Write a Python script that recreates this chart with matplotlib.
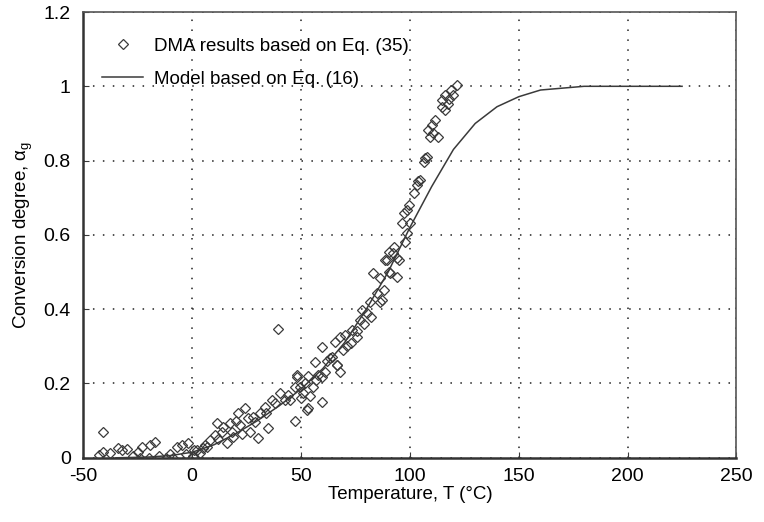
import matplotlib
matplotlib.use("Agg")
import matplotlib.pyplot as plt
from matplotlib.lines import Line2D

plt.rc('font', family=['Liberation Sans', 'DejaVu Sans'], size=12)
plt.rc('mathtext', default='regular')
plt.rc('axes', unicode_minus=False)

EDGE = '#3a3a3a'

# DMA results based on Eq. (35)
dma_T = [-41, -41, -43, -37.7, -34, -30, -25, -23, -19.3, -17, -24, -20, -12, -9, -7, -4.6, -2, 0.5, 3.7, 7,
         -27, -32, -15, -10, -3, 1,
         0.6, 2.1, 5, 8.3, 10.6, 11.3, 13.6, 14.3, 16, 17.5, 18.2, 18.8, 21, 22, 24.3, 25.8, 26.6, 29, 30.3,
         31.2, 33.5, 35, 36.7, 38, 40.4, 42.7, 45, 47.3, 48, 49.6, 51, 52.8, 39.5, 12, 20, 28, 34, 44, 6, 23,
         53, 56.5, 59.7, 59.7, 58, 61, 64.3, 66.6, 69.4, 68, 73.5, 75.8, 77.2, 80.4, 83.1, 87.3, 86.4, 91,
         89.6, 92.3, 48, 47.3, 55.7, 54.2, 65.7, 75.6, 78, 81.8, 86.4, 84.8, 87.9, 90.2, 94, 94, 66.5, 68,
         63.4, 59.6, 52, 57, 71, 79, 82, 70, 62, 73, 50, 53,
         121.6, 120, 116.2, 114.7, 117.7, 114.7, 116.2, 111.6, 110.1, 108.5, 113.1, 109.3, 107.8, 106.3,
         104.7, 103.2, 101.7, 99.4, 98.6, 97.1, 96.3, 100.1, 98.6, 97.8, 92.5, 90.2, 94.8, 88.7, 119, 118,
         110.5, 106.8, 103.5]
dma_a = [0.07, 0.016, 0.008, 0.013, 0.027, 0.024, 0.016, 0.03, 0.035, 0.043, 0.0, 0.0, 0.0, 0.0, 0.03, 0.035,
         0.04, 0.003, 0.013, 0.03,
         0.005, 0.02, 0.005, 0.01, 0.01, 0.02,
         0.004, 0.02, 0.027, 0.048, 0.062, 0.094, 0.07, 0.083, 0.04, 0.094, 0.07, 0.056, 0.12, 0.089, 0.134,
         0.107, 0.07, 0.097, 0.054, 0.12, 0.137, 0.08, 0.156, 0.148, 0.175, 0.156, 0.156, 0.1, 0.218, 0.19,
         0.175, 0.13, 0.347, 0.05, 0.1, 0.11, 0.12, 0.17, 0.035, 0.065,
         0.134, 0.258, 0.298, 0.15, 0.223, 0.231, 0.272, 0.25, 0.29, 0.325, 0.344, 0.325, 0.371, 0.39, 0.497,
         0.425, 0.484, 0.497, 0.532, 0.55, 0.223, 0.19, 0.19, 0.165, 0.313, 0.34, 0.398, 0.42, 0.42, 0.443,
         0.452, 0.5, 0.537, 0.487, 0.25, 0.232, 0.268, 0.218, 0.2, 0.21, 0.3, 0.36, 0.38, 0.33, 0.26, 0.31,
         0.16, 0.22,
         1.003, 0.976, 0.976, 0.962, 0.953, 0.944, 0.935, 0.909, 0.895, 0.882, 0.864, 0.864, 0.81, 0.797,
         0.747, 0.734, 0.712, 0.68, 0.667, 0.658, 0.631, 0.631, 0.604, 0.581, 0.568, 0.555, 0.532, 0.532,
         0.99, 0.965, 0.875, 0.806, 0.745]

# Model based on Eq. (16)
model_T = [-35, -20, -10, 0, 10, 20, 30, 40, 50, 60, 70, 80, 90, 100, 110, 120, 130, 140, 150, 160, 170,
           180, 200, 225]
model_a = [0.0, 0.002, 0.006, 0.015, 0.035, 0.065, 0.10, 0.14, 0.185, 0.24, 0.31, 0.4, 0.5, 0.62, 0.73,
           0.83, 0.9, 0.945, 0.972, 0.99, 0.995, 1.0, 1.0, 1.0]

x_ticks = [-50, 0, 50, 100, 150, 200, 250]
y_ticks = [0, 0.2, 0.4, 0.6, 0.8, 1.0, 1.2]
y_tick_labels = ['0', '0.2', '0.4', '0.6', '0.8', '1', '1.2']

fig = plt.figure(figsize=(7.64, 5.22), dpi=100)
fig.set_facecolor('white')
ax = fig.add_axes([0.109, 0.123, 0.855, 0.854])

ax.plot(dma_T, dma_a, 'D', markersize=5.3, mfc='none', mec=EDGE, mew=0.9, zorder=3)
ax.plot(model_T, model_a, '-', color=EDGE, linewidth=1.1, zorder=4)

ax.set_xlim(-50, 250)
ax.set_ylim(0, 1.2)
ax.set_xticks(x_ticks)
ax.set_yticks(y_ticks)
ax.set_yticklabels(y_tick_labels)
ax.tick_params(direction='in', length=4, color=EDGE, labelsize=14)
ax.tick_params(axis='x', pad=7)
ax.tick_params(axis='y', pad=9)
ax.grid(True, linestyle=(0, (1, 5.5)), color='#222222', linewidth=1.1)

for side in ['left', 'bottom']:
    ax.spines[side].set_linewidth(1.8)
    ax.spines[side].set_color('#333333')
for side in ['top', 'right']:
    ax.spines[side].set_linewidth(1.2)
    ax.spines[side].set_color('#555555')

ax.set_xlabel('Temperature, T (°C)', fontsize=13.5, labelpad=1)
ax.set_ylabel('Conversion degree, α$_g$', fontsize=13.5, labelpad=6)

ax.legend(
    handles=[Line2D([0], [0], marker='D', linestyle='none', markersize=5.3, mfc='none', mec=EDGE, mew=0.9),
             Line2D([0], [0], color=EDGE, linewidth=1.1)],
    labels=['DMA results based on Eq. (35)', 'Model based on Eq. (16)'],
    loc='upper left', frameon=False, fontsize=13.5, labelspacing=0.85, handlelength=2.2,
    handletextpad=0.55, borderaxespad=0.6, bbox_to_anchor=(0.0, 0.985)
)

fig.savefig('out.png', dpi=100)
